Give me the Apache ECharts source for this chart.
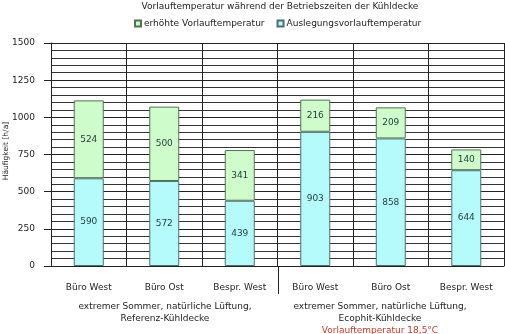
<!DOCTYPE html>
<html><head><meta charset="utf-8">
<script src="https://cdn.jsdelivr.net/npm/echarts@6/dist/echarts.min.js"></script>
<style>html,body{margin:0;padding:0;background:#fff}#c{width:505px;height:334px}</style>
</head><body><div id="c"></div>
<script>
const categories = ['Büro West', 'Büro Ost', 'Bespr. West', 'Büro West', 'Büro Ost', 'Bespr. West'];
const auslegung = [590, 572, 439, 903, 858, 644];
const erhoeht = [524, 500, 341, 216, 209, 140];
const yTicks = [0, 250, 500, 750, 1000, 1250, 1500];
const yName = 'Häufigkeit [h/a]';
const groupLabels = [
  ['extremer Sommer, natürliche Lüftung,', 'Referenz-Kühldecke'],
  ['extremer Sommer, natürliche Lüftung,', 'Ecophit-Kühldecke']
];
const groupNote = 'Vorlauftemperatur 18,5°C';

const FONT = 'DejaVu Sans';
const FS = 9;
const chart = echarts.init(document.getElementById('c'));
const gridL = 51, gridR = 1, gridT = 43, gridB = 68;
chart.setOption({
  animation: false,
  textStyle: { fontFamily: FONT },
  title: {
    text: 'Vorlauftemperatur während der Betriebszeiten der Kühldecke',
    left: 280, top: 2, textAlign: 'center', padding: 0,
    textStyle: { fontSize: FS, fontWeight: 'normal', color: '#222', fontFamily: FONT }
  },
  legend: {
    data: ['erhöhte Vorlauftemperatur', 'Auslegungsvorlauftemperatur'],
    left: 134, top: 19, itemWidth: 6, itemHeight: 6, itemGap: 12, padding: 0,
    icon: 'rect',
    textStyle: { fontSize: FS, color: '#222', fontFamily: FONT, padding: [0, 0, 0, -2] }
  },
  grid: { left: gridL, right: gridR, top: gridT, bottom: gridB, containLabel: false, outerBoundsMode: 'none' },
  xAxis: {
    type: 'category', data: categories,
    axisLine: { lineStyle: { color: '#222' } },
    axisTick: { interval: 0, length: 7, lineStyle: { color: '#222' } },
    splitLine: { show: true, interval: 0, lineStyle: { color: '#222' } },
    axisLabel: { interval: 0, margin: 17, fontSize: FS, color: '#222', fontFamily: FONT }
  },
  yAxis: {
    type: 'value', min: yTicks[0], max: yTicks[yTicks.length - 1], interval: yTicks[1] - yTicks[0],
    axisLine: { show: true, lineStyle: { color: '#222' } },
    axisTick: { show: true, length: 7, lineStyle: { color: '#222' } },
    minorTick: { show: true, splitNumber: 5, length: 0 },
    splitLine: { show: true, lineStyle: { color: '#222' } },
    minorSplitLine: { show: true, lineStyle: { color: '#333' } },
    axisLabel: { fontSize: FS, color: '#222', margin: 16, fontFamily: FONT, formatter: v => String(v) }
  },
  series: [
    {
      name: 'Auslegungsvorlauftemperatur', type: 'bar', stack: 's', data: auslegung,
      barWidth: 30,
      itemStyle: { color: '#b6fbfb', borderColor: '#4f6e6e', borderWidth: 1 },
      label: { show: true, position: 'inside', fontSize: FS, color: '#1e3a3a', fontFamily: FONT }
    },
    {
      name: 'erhöhte Vorlauftemperatur', type: 'bar', stack: 's', data: erhoeht,
      barWidth: 30,
      itemStyle: { color: '#cffccb', borderColor: '#557055', borderWidth: 1 },
      label: { show: true, position: 'inside', fontSize: FS, color: '#1e3a3a', fontFamily: FONT }
    }
  ]
});

const y0 = chart.convertToPixel({ yAxisIndex: 0 }, 0);
const left = gridL, right = 505 - gridR;
const cw = (right - left) / categories.length;
const midX = Math.round(left + cw * 3) + 0.5;
const g = [
  { type: 'line', shape: { x1: midX, y1: y0, x2: midX, y2: y0 + 28 }, style: { stroke: '#222', lineWidth: 1 } },
  { type: 'text', x: 6, y: 151, rotation: Math.PI / 2, style: { text: yName, align: 'center', verticalAlign: 'middle', fontSize: 7.5, fill: '#222', fontFamily: FONT } },
  { type: 'text', x: 165, y: 313, style: { text: groupLabels[0].join('\n'), align: 'center', verticalAlign: 'middle', fontSize: FS, lineHeight: 12, fill: '#222', fontFamily: FONT } },
  { type: 'text', x: 380, y: 313, style: { text: groupLabels[1].join('\n'), align: 'center', verticalAlign: 'middle', fontSize: FS, lineHeight: 12, fill: '#222', fontFamily: FONT } },
  { type: 'text', x: 380, y: 326, style: { text: groupNote, align: 'center', verticalAlign: 'top', fontSize: FS, fill: '#c0392b', fontFamily: FONT } }
];
chart.setOption({ graphic: g });
</script></body></html>
